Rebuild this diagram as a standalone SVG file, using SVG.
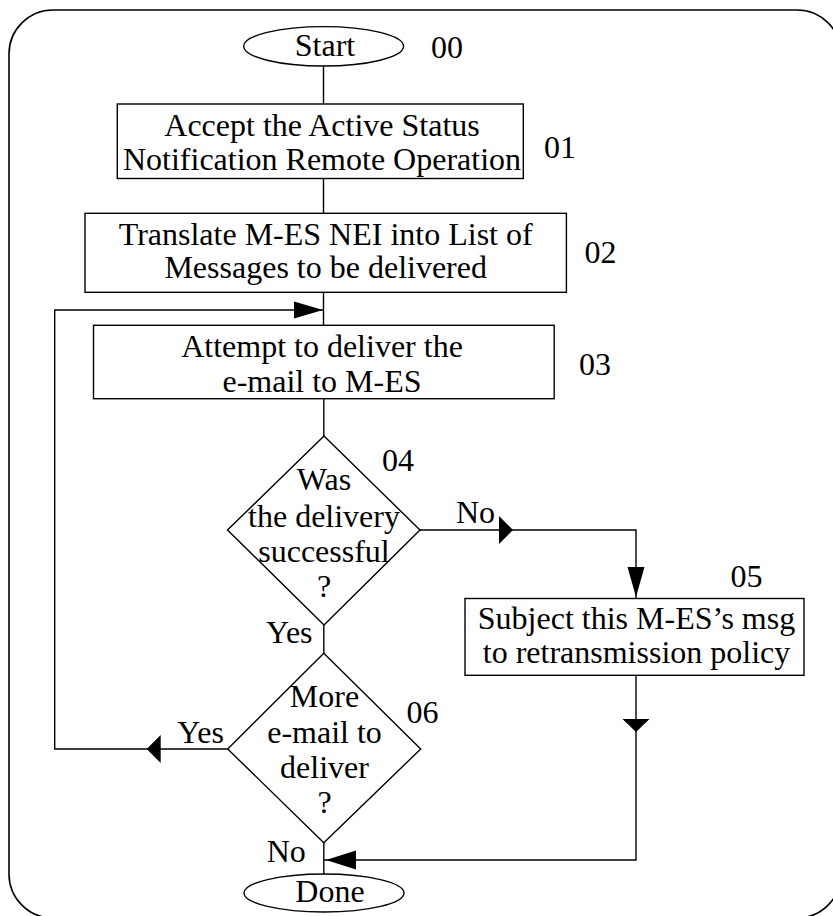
<svg xmlns="http://www.w3.org/2000/svg" width="833" height="916" viewBox="0 0 833 916">
  <style>
    .t { font-family: "Liberation Serif", "Times New Roman", serif; font-size: 32px; fill: #000; }
    .m { text-anchor: middle; }
    .shape { fill: #fff; stroke: #000; stroke-width: 1.4; }
    .ln { fill: none; stroke: #000; stroke-width: 1.4; }
    .ah { fill: #000; stroke: none; }
    .frame { fill: none; stroke: #000; stroke-width: 1.6; }
  </style>
  <rect width="833" height="916" fill="#fff"/>
  <rect class="frame" x="9" y="10" width="832" height="908" rx="44" ry="44"/>

  <g id="connectors">
    <line class="ln" x1="323.5" y1="66" x2="323.5" y2="104"/>
    <line class="ln" x1="323.5" y1="178.5" x2="323.5" y2="213.3"/>
    <line class="ln" x1="323.5" y1="292.3" x2="323.5" y2="325.3"/>
    <line class="ln" x1="323.8" y1="398.7" x2="323.8" y2="436"/>
    <line class="ln" x1="323.8" y1="625" x2="323.8" y2="653.3"/>
    <line class="ln" x1="323.8" y1="842.7" x2="323.8" y2="874"/>
    <path class="ln" d="M227.7,749 H54.7 V310 H323"/>
    <path class="ln" d="M420,530 H636 V598.5"/>
    <path class="ln" d="M636,675.3 V860 H323.8"/>
    <polygon class="ah" points="323,310 294,301.5 294,318.5"/>
    <polygon class="ah" points="513,530 499,516 499,544"/>
    <polygon class="ah" points="636,597 627.5,567 644.5,567"/>
    <polygon class="ah" points="636,732 622.5,719 649.5,719"/>
    <polygon class="ah" points="146.7,749 160.7,735 160.7,763"/>
    <polygon class="ah" points="326,860 356,850.5 356,869.5"/>
    <text class="t" x="456" y="523.3">No</text>
    <text class="t" x="266" y="643.3">Yes</text>
    <text class="t" x="177.3" y="743.3">Yes</text>
    <text class="t" x="266.7" y="861.7">No</text>
  </g>

  <g id="n00">
    <ellipse class="shape" cx="323.6" cy="46.3" rx="80" ry="19.7"/>
    <text class="t m" x="325" y="56">Start</text>
    <text class="t" x="431" y="58">00</text>
  </g>

  <g id="n01">
    <rect class="shape" x="117.3" y="104" width="406" height="74.5"/>
    <text class="t m" x="322" y="136">Accept the Active Status</text>
    <text class="t m" x="322" y="169.5">Notification Remote Operation</text>
    <text class="t" x="544" y="158">01</text>
  </g>

  <g id="n02">
    <rect class="shape" x="85" y="213.3" width="481.4" height="79"/>
    <text class="t m" x="325.7" y="245">Translate M-ES NEI into List of</text>
    <text class="t m" x="325.7" y="278.3">Messages to be delivered</text>
    <text class="t" x="584.5" y="263">02</text>
  </g>

  <g id="n03">
    <rect class="shape" x="93.5" y="325.3" width="460.7" height="73.4"/>
    <text class="t m" x="322" y="356.7">Attempt to deliver the</text>
    <text class="t m" x="322" y="391.7">e-mail to M-ES</text>
    <text class="t" x="579" y="375">03</text>
  </g>

  <g id="n04">
    <polygon class="shape" points="324,436 420,530 324,625 227.5,530"/>
    <text class="t m" x="324" y="490">Was</text>
    <text class="t m" x="324" y="526.7">the delivery</text>
    <text class="t m" x="324" y="561.5">successful</text>
    <text class="t m" x="324" y="596.7">?</text>
    <text class="t" x="382" y="470.7">04</text>
  </g>

  <g id="n05">
    <rect class="shape" x="465" y="598.5" width="339" height="76.8"/>
    <text class="t m" x="636.5" y="629.3">Subject this M-ES’s msg</text>
    <text class="t m" x="636.5" y="663.3">to retransmission policy</text>
    <text class="t" x="730.6" y="586.7">05</text>
  </g>

  <g id="n06">
    <polygon class="shape" points="323.8,653.3 420.7,749 323.8,842.7 227.7,749"/>
    <text class="t m" x="324.5" y="706.7">More</text>
    <text class="t m" x="324.5" y="743.3">e-mail to</text>
    <text class="t m" x="324.5" y="778.3">deliver</text>
    <text class="t m" x="324.5" y="813.3">?</text>
    <text class="t" x="406.5" y="723.3">06</text>
  </g>

  <g id="done">
    <ellipse class="shape" cx="324" cy="893" rx="80" ry="19"/>
    <text class="t m" x="330" y="901.7">Done</text>
  </g>
</svg>
